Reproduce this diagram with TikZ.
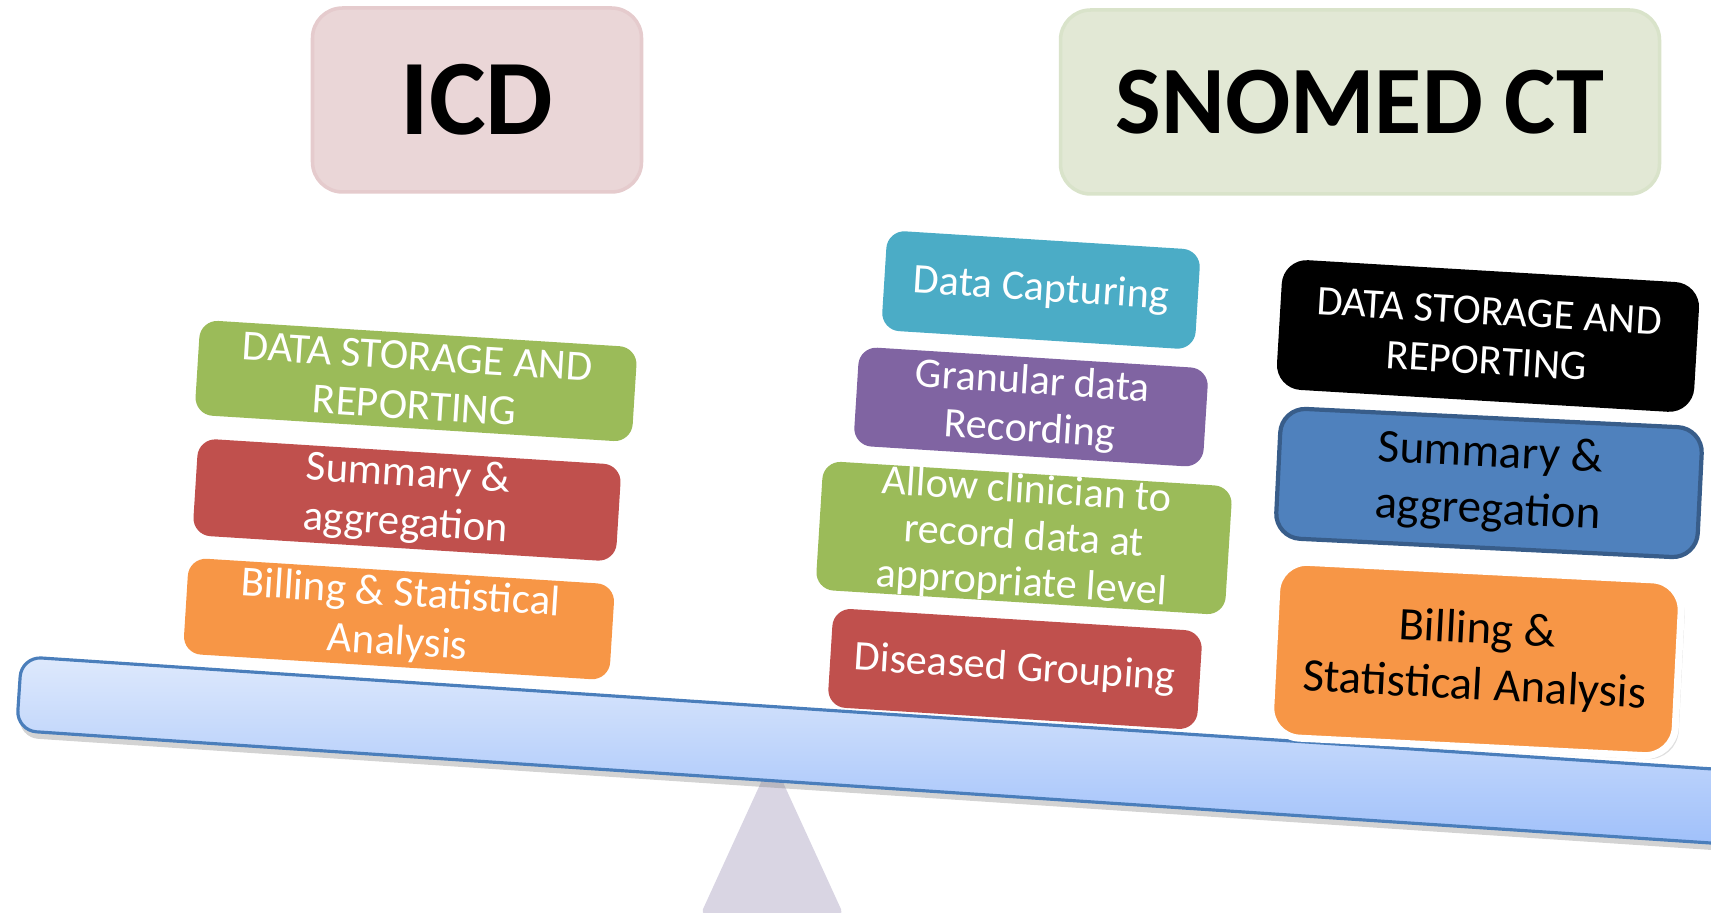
\documentclass[tikz,border=0pt]{standalone}
\usepackage{fontspec}
\setmainfont{Carlito}
\usepackage{xcolor}
\usetikzlibrary{shadows}

\definecolor{icdpink}{RGB}{234,214,215}
\definecolor{icdedge}{RGB}{229,203,205}
\definecolor{snogreen}{RGB}{226,232,213}
\definecolor{snoedge}{RGB}{217,227,202}
\definecolor{olive}{RGB}{155,187,89}
\definecolor{brick}{RGB}{192,80,77}
\definecolor{tangerine}{RGB}{247,150,70}
\definecolor{capblue}{RGB}{75,172,198}
\definecolor{plum}{RGB}{128,100,162}
\definecolor{steel}{RGB}{79,129,189}
\definecolor{steeledge}{RGB}{56,93,138}
\definecolor{beamtop}{RGB}{222,233,252}
\definecolor{beambot}{RGB}{158,191,250}
\definecolor{beamedge}{RGB}{74,126,187}
\definecolor{pivot}{RGB}{217,213,227}

\begin{document}
\begin{tikzpicture}[
    head/.style={rounded corners=0.3cm, inner sep=0pt, text=black},
    block/.style={rounded corners=0.18cm, inner sep=0pt, align=center, text=white},
    lfont/.style={font=\fontsize{12.2}{14}\selectfont},
    mfont/.style={font=\fontsize{12}{13}\selectfont}
]
\useasboundingbox (0,0) rectangle (17.11,-9.13);

% the pivot and the beam
\draw[pivot, fill=pivot, rounded corners=1pt] (7.72,-7.6) -- (8.42,-9.13) -- (7.02,-9.13) -- cycle;
\node[draw=beamedge, line width=0.9pt, top color=beamtop, bottom color=beambot, rounded corners=0.2cm,
      minimum width=18cm, minimum height=0.74cm, rotate=-3.8, anchor=north west,
      drop shadow={opacity=0.35, shadow xshift=0.5pt, shadow yshift=-2pt}] (beam) at (0.2,-6.55) {};

% headings
\node[head, fill=icdpink, draw=icdedge, line width=1pt, minimum width=3.29cm, minimum height=1.84cm,
      font=\bfseries\fontsize{30.5}{30.5}\selectfont] (icd) at (4.77,-1.0) {ICD};
\node[head, fill=snogreen, draw=snoedge, line width=1pt, minimum width=5.99cm, minimum height=1.84cm,
      font=\bfseries\fontsize{27.5}{27.5}\selectfont] (snomed) at (13.60,-1.02) {SNOMED CT};

% ICD side
\node[block, lfont, fill=olive, minimum width=4.38cm, minimum height=0.95cm, rotate=-3.6] (lstore) at (4.16,-3.81) {DATA STORAGE AND\\REPORTING};
\node[block, lfont, fill=brick, minimum width=4.24cm, minimum height=0.97cm, rotate=-3.6] (lsum) at (4.07,-5.00) {Summary \&\\aggregation};
\node[block, lfont, fill=tangerine, minimum width=4.27cm, minimum height=0.96cm, rotate=-3.6] (lbill) at (3.99,-6.19) {Billing \& Statistical\\Analysis};

% SNOMED CT side, middle
\node[block, mfont, fill=capblue, minimum width=3.14cm, minimum height=1.0cm, rotate=-3.6] (mcap) at (10.41,-2.90) {Data Capturing};
\node[block, font=\fontsize{12}{13.6}\selectfont, fill=plum, minimum width=3.50cm, minimum height=0.99cm, rotate=-3.6] (mgran) at (10.31,-4.07) {Granular data\\Recording};
\node[block, font=\fontsize{12}{13.2}\selectfont, fill=olive, minimum width=4.10cm, minimum height=1.27cm, rotate=-3.6] (mallow) at (10.24,-5.38) {Allow clinician to\\record data at\\appropriate level};
\node[block, mfont, fill=brick, minimum width=3.70cm, minimum height=0.99cm, rotate=-3.6] (mgroup) at (10.15,-6.69) {Diseased Grouping};

% SNOMED CT side, right
\node[block, font=\fontsize{12}{14.2}\selectfont, fill=black, rounded corners=0.25cm, minimum width=4.18cm, minimum height=1.30cm, rotate=-3.4] (rstore) at (14.88,-3.36) {DATA STORAGE AND\\REPORTING};
\node[block, text=black, font=\fontsize{13.4}{16.2}\selectfont, fill=steel, draw=steeledge, line width=1.2pt, rounded corners=0.25cm,
      minimum width=4.22cm, minimum height=1.30cm, rotate=-2.8] (rsum) at (14.89,-4.83) {Summary \&\\aggregation};
\node[block, text=black, font=\fontsize{13.3}{16}\selectfont, fill=tangerine, draw=white, line width=2pt, rounded corners=0.3cm,
      minimum width=4.05cm, minimum height=1.76cm, rotate=-2.9,
      drop shadow={opacity=0.25, shadow xshift=1pt, shadow yshift=-1pt}] (rbill) at (14.76,-6.59) {Billing \&\\Statistical Analysis};
\end{tikzpicture}
\end{document}
